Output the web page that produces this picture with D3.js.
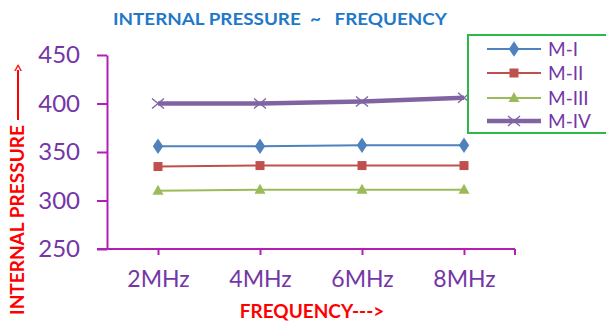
<!DOCTYPE html>
<html>
<head>
<meta charset="utf-8">
<script src="https://cdn.jsdelivr.net/npm/d3@7"></script>
<style>
  html, body { margin: 0; padding: 0; background: #fff; }
  svg { display: block; }
  text { font-family: Lato, "Noto Sans", sans-serif; white-space: pre; }
</style>
</head>
<body>
<svg id="chart" width="606" height="322"></svg>
<script>
// Internal pressure of four mixtures at several ultrasonic frequencies
const categories = ["2MHz", "4MHz", "6MHz", "8MHz"];
const seriesNames = ["M-I", "M-II", "M-III", "M-IV"];
const mI   = [356, 356, 357, 357];
const mII  = [335, 336, 336, 336];
const mIII = [310, 311, 311, 311];
const mIV  = [400, 400, 402, 406];
const yTicks = [250, 300, 350, 400, 450];

const series = [
  { name: seriesNames[0], values: mI,   color: "#4F81BD", width: 2,   marker: "diamond" },
  { name: seriesNames[1], values: mII,  color: "#C0504D", width: 2,   marker: "square" },
  { name: seriesNames[2], values: mIII, color: "#9BBB59", width: 2,   marker: "triangle" },
  { name: seriesNames[3], values: mIV,  color: "#8064A2", width: 4.5, marker: "cross" }
];

const axisColor = "#B41EB4";
const tickLabelColor = "#7436A6";

const svg = d3.select("#chart");

const x = d3.scalePoint().domain(categories).range([107, 515]).padding(0.5);
const y = d3.scaleLinear().domain([250, 450]).range([249, 55]);

// Title
svg.append("text")
  .attr("x", 280).attr("y", 25)
  .attr("text-anchor", "middle")
  .attr("font-size", 17).attr("font-weight", "bold")
  .attr("fill", "#1F78C8")
  .attr("textLength", 334).attr("lengthAdjust", "spacingAndGlyphs")
  .text("INTERNAL PRESSURE  ~   FREQUENCY");

// Y axis
const yAxis = svg.append("g")
  .attr("transform", "translate(107,0)")
  .call(d3.axisLeft(y).tickValues(yTicks).tickSize(10).tickSizeOuter(0).tickPadding(17));
yAxis.select(".domain").attr("stroke", axisColor).attr("stroke-width", 2);
yAxis.selectAll(".tick line").attr("stroke", axisColor).attr("stroke-width", 2);
yAxis.selectAll(".tick text")
  .attr("fill", tickLabelColor)
  .attr("font-size", 24)
  .attr("font-family", "Lato, 'Noto Sans', sans-serif");

// X axis
const xAxis = svg.append("g")
  .attr("transform", "translate(0,249)")
  .call(d3.axisBottom(x).tickSize(6).tickSizeOuter(0).tickPadding(16));
xAxis.select(".domain").attr("stroke", axisColor).attr("stroke-width", 2)
  .attr("d", `M97,0H515`);
xAxis.selectAll(".tick line").attr("stroke", axisColor).attr("stroke-width", 2);
xAxis.selectAll(".tick text")
  .attr("fill", tickLabelColor)
  .attr("font-size", 23)
  .attr("font-family", "Lato, 'Noto Sans', sans-serif");
// closing tick at the end of the category axis
xAxis.append("line")
  .attr("x1", x.range()[1]).attr("x2", x.range()[1])
  .attr("y1", 0).attr("y2", 6)
  .attr("stroke", axisColor).attr("stroke-width", 2);

// Axis titles
svg.append("text")
  .attr("x", 312).attr("y", 318)
  .attr("text-anchor", "middle")
  .attr("font-size", 19).attr("font-weight", "bold")
  .attr("fill", "#FF0000")
  .text("FREQUENCY--->");

const yTitle = svg.append("g").attr("transform", "translate(24,0) rotate(-90)");
yTitle.append("text")
  .attr("x", -315)
  .attr("fill", "#FF0000")
  .attr("font-size", 19)
  .attr("font-weight", "bold")
  .attr("textLength", 190).attr("lengthAdjust", "spacingAndGlyphs")
  .text("INTERNAL PRESSURE");
// arrow after the title
yTitle.append("line")
  .attr("x1", -120).attr("x2", -70)
  .attr("y1", -6).attr("y2", -6)
  .attr("stroke", "#FF0000").attr("stroke-width", 2);
yTitle.append("text")
  .attr("x", -73)
  .attr("fill", "#FF0000")
  .attr("font-size", 17)
  .text(">");

// Marker shapes
function drawMarker(g, type, color, cx, cy) {
  if (type === "diamond") {
    g.append("path")
      .attr("d", d3.symbol().type(d3.symbolDiamond).size(70)())
      .attr("transform", `translate(${cx},${cy}) scale(1.15,1)`)
      .attr("fill", color);
  } else if (type === "square") {
    g.append("rect")
      .attr("x", cx - 4.5).attr("y", cy - 4.5)
      .attr("width", 9).attr("height", 9)
      .attr("fill", color);
  } else if (type === "triangle") {
    g.append("path")
      .attr("d", `M${cx},${cy - 6}L${cx + 5.5},${cy + 4}L${cx - 5.5},${cy + 4}Z`)
      .attr("fill", color);
  } else if (type === "cross") {
    g.append("path")
      .attr("d", `M${cx - 6},${cy - 5}L${cx + 6},${cy + 5}M${cx - 6},${cy + 5}L${cx + 6},${cy - 5}`)
      .attr("stroke", color).attr("stroke-width", 1.4).attr("fill", "none");
  }
}

// Series lines and markers
const line = d3.line().x((d, i) => x(categories[i])).y(d => y(d));
series.forEach(s => {
  const g = svg.append("g");
  g.append("path")
    .attr("d", line(s.values))
    .attr("fill", "none")
    .attr("stroke", s.color)
    .attr("stroke-width", s.width);
  s.values.forEach((v, i) => drawMarker(g, s.marker, s.color, x(categories[i]), y(v)));
});

// Legend
const legend = svg.append("g");
legend.append("rect")
  .attr("x", 468).attr("y", 35)
  .attr("width", 150).attr("height", 98)
  .attr("fill", "#fff")
  .attr("stroke", "#2DB84B").attr("stroke-width", 2);
const legendY = [49, 73, 98, 121];
series.forEach((s, i) => {
  const ly = legendY[i];
  legend.append("line")
    .attr("x1", 487).attr("x2", 541)
    .attr("y1", ly).attr("y2", ly)
    .attr("stroke", s.color).attr("stroke-width", s.width);
  drawMarker(legend, s.marker, s.color, 514, ly);
  legend.append("text")
    .attr("x", 548).attr("y", ly + 7)
    .attr("font-size", 19)
    .attr("fill", tickLabelColor)
    .text(s.name);
});
</script>
</body>
</html>
